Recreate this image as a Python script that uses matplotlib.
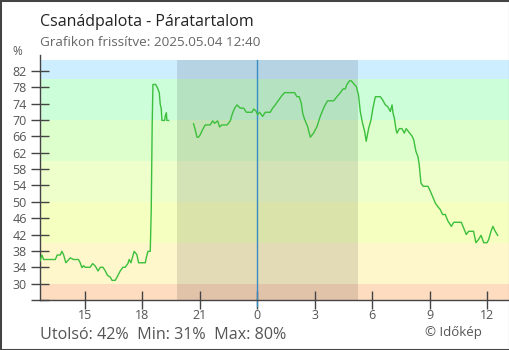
import matplotlib.pyplot as plt
from matplotlib.patches import Rectangle

plt.rcParams['font.family'] = ['Open Sans', 'DejaVu Sans']

# -------------------------- data --------------------------
# time in hours relative to midnight (negative = previous day), humidity %
t_day1 = [-11.35, -11.25, -11.16, -10.55, -10.45, -10.29, -10.21, -10.12, -10.00, -9.77,
          -9.60, -9.34, -9.25, -9.16, -9.07, -8.99, -8.73, -8.60, -8.46, -8.32,
          -8.20, -8.06, -7.94, -7.82, -7.68, -7.59, -7.42, -7.30, -7.16, -7.02,
          -6.90, -6.76, -6.69, -6.60, -6.43, -6.29, -6.20, -5.85, -5.80, -5.71,
          -5.59, -5.54, -5.49, -5.45, -5.31, -5.21, -5.12, -5.07, -5.02, -4.98,
          -4.84, -4.81, -4.75, -4.72, -4.63]
h_day1 = [35.5, 37.0, 35.9, 35.9, 37.0, 37.0, 37.9, 37.1, 35.1, 36.3,
          35.9, 35.9, 35.1, 33.9, 34.4, 34.0, 34.0, 34.9, 34.3, 33.1,
          34.0, 34.0, 33.1, 32.0, 31.6, 30.8, 30.8, 31.8, 33.1, 34.0,
          34.0, 34.9, 35.9, 35.1, 37.9, 37.1, 35.1, 35.1, 36.3, 37.9,
          37.9, 47.9, 68.6, 78.7, 78.7, 77.8, 76.7, 73.9, 72.9, 69.9,
          69.9, 70.9, 71.8, 69.9, 69.9]

t_day2 = [-3.33, -3.24, -3.15, -3.07, -2.98, -2.86, -2.72, -2.46, -2.33, -2.23,
          -2.07, -1.97, -1.85, -1.58, -1.41, -1.29, -1.18, -1.06, -0.89, -0.71,
          -0.57, -0.28, -0.19, -0.07, 0.02, 0.12, 0.28, 0.42, 0.68, 0.80,
          0.94, 1.06, 1.29, 1.43, 1.95, 2.07, 2.19, 2.30, 2.37, 2.47,
          2.63, 2.77, 2.94, 3.12, 3.29, 3.50, 3.67, 3.99, 4.16, 4.34,
          4.48, 4.60, 4.68, 4.82, 4.91, 5.07, 5.17, 5.29, 5.38, 5.50,
          5.61, 5.69, 5.82, 5.94, 6.04, 6.17, 6.43, 6.55, 6.69, 6.81,
          6.95, 7.04, 7.09, 7.16, 7.25, 7.30, 7.42, 7.56, 7.68, 7.78,
          7.96, 8.08, 8.17, 8.29, 8.39, 8.46, 8.55, 8.66, 8.92, 9.04,
          9.16, 9.30, 9.42, 9.56, 9.68, 9.82, 9.96, 10.14, 10.26, 10.66,
          10.78, 10.92, 11.04, 11.30, 11.42, 11.56, 11.69, 11.83, 12.00, 12.09,
          12.21, 12.31, 12.43, 12.56]
h_day2 = [69.1, 67.6, 65.8, 65.8, 66.4, 67.6, 68.8, 68.8, 69.8, 69.2,
          69.8, 68.3, 68.8, 68.8, 69.8, 71.7, 72.9, 73.7, 72.9, 72.9,
          71.9, 71.9, 72.7, 72.2, 71.3, 71.9, 70.9, 71.9, 71.9, 72.9,
          73.7, 74.5, 76.0, 76.7, 76.7, 75.7, 75.7, 74.1, 71.7, 70.2,
          68.4, 65.8, 66.8, 68.4, 70.9, 73.3, 74.7, 74.7, 75.7, 76.7,
          77.6, 77.6, 78.7, 79.6, 79.6, 78.7, 78.2, 76.1, 72.1, 69.2,
          67.2, 64.8, 68.0, 70.0, 72.9, 75.7, 75.7, 74.9, 73.7, 73.3,
          72.1, 73.7, 71.7, 70.5, 67.6, 66.8, 67.9, 67.9, 66.8, 67.9,
          66.8, 66.1, 65.2, 62.3, 61.1, 59.1, 54.6, 53.8, 53.8, 52.6,
          51.3, 49.7, 48.9, 48.1, 46.9, 46.9, 45.3, 44.0, 45.0, 45.0,
          43.6, 42.0, 42.8, 42.8, 40.0, 40.8, 41.8, 40.0, 40.0, 40.8,
          42.8, 44.0, 42.8, 41.8]

# background humidity bands
band_lo = [20, 30, 40, 50, 60, 70, 80]
band_hi = [30, 40, 50, 60, 70, 80, 84.7]
band_col = ['#fddcc0', '#fff7cc', '#f5ffc0', '#eeffcc', '#ddffcc', '#ccffd9', '#cceeff']

sunset, sunrise = -4.18, 5.28

tick_pos = [-9, -6, -3, 0, 3, 6, 9, 12]
tick_lab = ['15', '18', '21', '0', '3', '6', '9', '12']
ytick_pos = list(range(26, 83, 4))

# -------------------------- figure --------------------------
fig = plt.figure(figsize=(5.1, 3.5), dpi=100, facecolor='white')
fig.patches.append(Rectangle((0, 0), 1, 1, transform=fig.transFigure, fill=False,
                             edgecolor='#444444', linewidth=2.2))
ax = fig.add_axes([40 / 510, 50 / 350, 469 / 510, 245 / 350])
ax.set_xlim(-11.35, 13.15)
ax.set_ylim(26.15, 85.9)

for lo, hi, c in zip(band_lo, band_hi, band_col):
    ax.fill_between([-12, 14], lo, hi, color=c, linewidth=0, zorder=0)

ax.fill_between([sunset, sunrise], 20, 84.7, color='black', alpha=0.11, linewidth=0, zorder=1)
ax.plot([0, 0], [24.6, 84.7], color='#3a8cc4', linewidth=1, zorder=2, clip_on=False)

ax.plot(t_day1, h_day1, color='#3cbf3c', linewidth=1.0, zorder=3)
ax.plot(t_day2, h_day2, color='#3cbf3c', linewidth=1.0, zorder=3)

for s in ['top', 'right']:
    ax.spines[s].set_visible(False)
for s in ['left', 'bottom']:
    ax.spines[s].set_color('#444444')
    ax.spines[s].set_linewidth(1)

ax.set_xticks(tick_pos)
ax.set_xticklabels(tick_lab)
ax.set_yticks(ytick_pos)
ax.set_yticklabels(['' if v == 26 else str(v) for v in ytick_pos])
ax.tick_params(axis='both', direction='inout', length=13, width=1, color='#444444',
               labelcolor='#555555', labelsize=9)
ax.tick_params(axis='y', pad=3)
ax.tick_params(axis='x', pad=0)
ax.xaxis.get_major_ticks()[3].tick1line.set_color('#3a8cc4')

fig.text(40 / 510, 1 - 26 / 350, 'Csanádpalota - Páratartalom', fontsize=11.5, color='#222222')
fig.text(40 / 510, 1 - 45.5 / 350, 'Grafikon frissítve: 2025.05.04 12:40', fontsize=9.7, color='#666666')
fig.text(12 / 510, 1 - 55 / 350, '%', fontsize=8.5, color='#555555')
fig.text(40 / 510, 1 - 339 / 350, 'Utolsó: 42%  Min: 31%  Max: 80%', fontsize=11.6, color='#555555')
fig.text(425 / 510, 1 - 336 / 350, '© Időkép', fontsize=9.5, color='#555555')

fig.savefig('out.png', dpi=100)
